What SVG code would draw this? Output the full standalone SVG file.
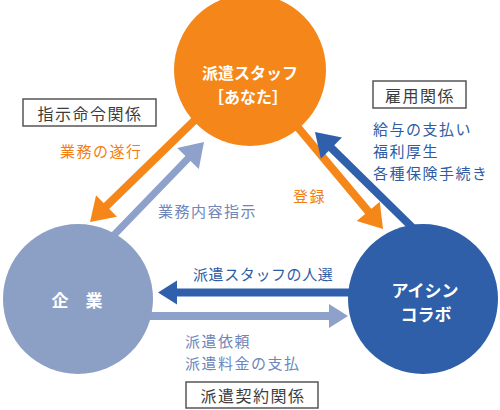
<svg xmlns="http://www.w3.org/2000/svg" width="500" height="410" viewBox="0 0 500 410">
<style>
text{font-family:"Noto Sans CJK JP","Noto Sans",sans-serif;}
.node-t{fill:#fff;font-weight:bold;font-size:16px;text-anchor:middle;dominant-baseline:central;}
.box{fill:#fff;stroke:#555;stroke-width:1.5;}
.box-t{fill:#3c3c3c;font-size:16px;letter-spacing:1.5px;text-anchor:middle;dominant-baseline:central;}
.lbl{font-size:15px;letter-spacing:1.5px;dominant-baseline:central;}
.or{fill:#F27E12;}
.db{fill:#2D5CA5;}
.lb{fill:#6E86B9;}
.c-or{stroke:#F5871A;fill:none;}
.c-lb{stroke:#8DA1CA;fill:none;}
.c-db{stroke:#3060AB;fill:none;}
</style>
<defs>
<marker id="hOr" markerUnits="userSpaceOnUse" markerWidth="30" markerHeight="32" refX="1" refY="15" orient="auto" overflow="visible"><path d="M0,0 L23,15 L0,30 Z" fill="#F5871A"/></marker>
<marker id="hLb" markerUnits="userSpaceOnUse" markerWidth="30" markerHeight="32" refX="1" refY="15" orient="auto" overflow="visible"><path d="M0,0 L23,15 L0,30 Z" fill="#8DA1CA"/></marker>
<marker id="hDb" markerUnits="userSpaceOnUse" markerWidth="30" markerHeight="32" refX="1" refY="15" orient="auto" overflow="visible"><path d="M0,0 L23,15 L0,30 Z" fill="#3060AB"/></marker>
<marker id="sLb" markerUnits="userSpaceOnUse" markerWidth="24" markerHeight="26" refX="1" refY="12" orient="auto" overflow="visible"><path d="M0,0 L19,12 L0,24 Z" fill="#8DA1CA"/></marker>
<marker id="sDb" markerUnits="userSpaceOnUse" markerWidth="24" markerHeight="26" refX="1" refY="12" orient="auto" overflow="visible"><path d="M0,0 L19,12 L0,24 Z" fill="#3060AB"/></marker>
</defs>
<rect width="500" height="410" fill="#fff"/>
<g id="connectors">
<line class="c-or" x1="200" y1="115" x2="105.8" y2="206.7" stroke-width="8" marker-end="url(#hOr)"/>
<line class="c-lb" x1="113" y1="236" x2="188.7" y2="157.8" stroke-width="7" marker-end="url(#hLb)"/>
<line class="c-or" x1="290" y1="118" x2="368.9" y2="212.1" stroke-width="8" marker-end="url(#hOr)"/>
<line class="c-db" x1="420" y1="235" x2="330.7" y2="147.4" stroke-width="8" marker-end="url(#hDb)"/>
<line class="c-db" x1="360" y1="292.5" x2="176" y2="292.5" stroke-width="8" marker-end="url(#sDb)"/>
<line class="c-lb" x1="140" y1="316" x2="330" y2="316" stroke-width="8" marker-end="url(#sLb)"/>
</g>
<g id="node-staff">
<circle cx="250" cy="70" r="76" fill="#F5871A"/>
<text class="node-t" x="250" y="72">派遣スタッフ</text>
<text class="node-t" x="248" y="96">［あなた］</text>
</g>
<g id="node-company">
<circle cx="78" cy="299" r="75" fill="#8C9FC5"/>
<text class="node-t" x="77" y="299" style="font-size:17px;letter-spacing:17px" dx="8.5">企業</text>
</g>
<g id="node-aisin">
<circle cx="423" cy="299" r="75" fill="#2E5FA8"/>
<text class="node-t" x="425" y="289" style="font-size:17px">アイシン</text>
<text class="node-t" x="426" y="313" style="font-size:17px">コラボ</text>
</g>
<g id="label-shiji">
<rect class="box" x="23" y="99" width="133" height="27"/>
<text class="box-t" x="90" y="112.5">指示命令関係</text>
</g>
<g id="label-koyo">
<rect class="box" x="373" y="81" width="93" height="27"/>
<text class="box-t" x="420" y="94.5">雇用関係</text>
</g>
<g id="label-keiyaku">
<rect class="box" x="186" y="382" width="132" height="26"/>
<text class="box-t" x="253" y="395">派遣契約関係</text>
</g>
<g id="edge-labels">
<text class="lbl or" x="60" y="150">業務の遂行</text>
<text class="lbl lb" x="158" y="210">業務内容指示</text>
<text class="lbl or" x="293" y="195">登録</text>
<text class="lbl db" x="373" y="128">給与の支払い</text>
<text class="lbl db" x="373" y="150">福利厚生</text>
<text class="lbl db" x="373" y="172">各種保険手続き</text>
<text class="lbl db" x="193" y="273" style="letter-spacing:0.6px">派遣スタッフの人選</text>
<text class="lbl lb" x="185" y="340">派遣依頼</text>
<text class="lbl lb" x="185" y="362">派遣料金の支払</text>
</g>
</svg>
